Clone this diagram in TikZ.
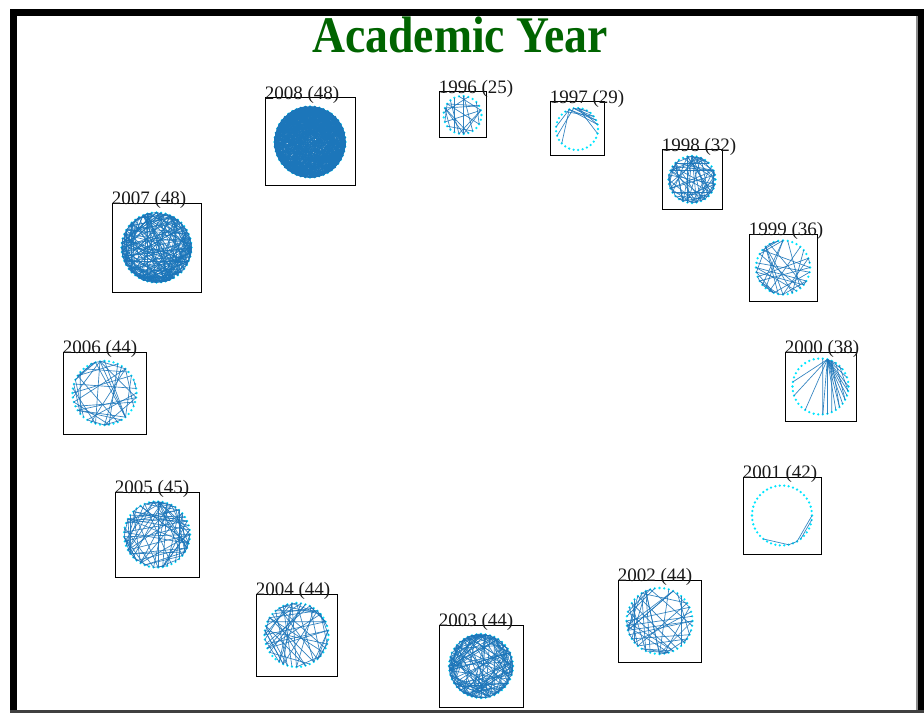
\documentclass[tikz,border=0pt]{standalone}
\usepackage{graphicx}
\usepackage{fontspec}
\setmainfont{Liberation Serif}
\usepackage{tikz}
\usetikzlibrary{positioning}
\usepackage{xcolor}

\definecolor{titlegreen}{RGB}{0,100,0}
\definecolor{netblue}{RGB}{28,118,186}
\definecolor{netcyan}{RGB}{0,230,255}
\newcommand{\px}{0.75pt}

% vertices of one year's network, evenly spread on a circle
\newcommand{\netvertices}[5]{% name, cx, cy, radius, count
  \foreach \k in {1,...,#5}{
    \coordinate (#1-\k) at ([shift={(360/#5*\k:#4)}]#2,#3);
    \fill[netvertex] (#1-\k) circle (0.95pt);
  }}
% random links between the vertices
\newcommand{\netlinks}[4]{% name, count, links, seed
  \pgfmathsetseed{#4}
  \foreach \e in {1,...,#3}{
    \pgfmathrandominteger{\ia}{1}{#2}
    \pgfmathrandominteger{\ib}{1}{#2}
    \draw[netedge] (#1-\ia) -- (#1-\ib);
  }}

\begin{document}
\begin{tikzpicture}[
  x=\px, y=-\px,
  yearbox/.style={draw, line width=0.75pt, inner sep=0pt},
  yearlabel/.style={anchor=base west, inner sep=0pt, yshift=-1.5pt,
                    font=\fontsize{14.25pt}{15pt}\selectfont, text=black!90},
  titletext/.style={anchor=base, inner sep=0pt, text=titlegreen,
                    font=\bfseries\fontsize{38.5pt}{40pt}\selectfont},
  netedge/.style={draw=netblue, line width=0.5pt, draw opacity=0.9},
  netvertex/.style={fill=netcyan}]
  \useasboundingbox[fill=white] (0,0) rectangle (924,713);

  % frame
  \fill[black] (10,9) rectangle (17,713);
  \fill[black] (10,9) rectangle (924,16);
  \fill[black] (918,9) rectangle (924,713);
  \fill[black!75] (10,710) rectangle (924,713);
  \fill[black!45] (915.5,16) rectangle (918,710);

  \node[titletext] (title) at (460,53) {\scalebox{0.89}[1]{Academic Year}};

  % 1996
  \node[yearbox, minimum width=47*\px, minimum height=46*\px] (y1996) at (462.5,115) {};
  \node[yearlabel] (l1996) at (y1996.north west) {1996 (25)};
  \netvertices{g1996}{462.5}{115}{19}{25}
  \netlinks{g1996}{25}{18}{11}

  % 1997
  \node[yearbox, minimum width=54*\px, minimum height=54*\px] (y1997) at (577,129) {};
  \node[yearlabel] (l1997) at (y1997.north west) {1997 (29)};
  \netvertices{g1997}{577}{129}{21}{29}
  \foreach \a/\b in {20/27, 20/28, 21/27, 21/26, 22/28, 22/25, 21/24, 20/15,
                     20/11, 21/13, 19/26, 22/1}
    \draw[netedge] (g1997-\a) -- (g1997-\b);

  % 1998
  \node[yearbox, minimum width=60*\px, minimum height=59*\px] (y1998) at (692,179.5) {};
  \node[yearlabel] (l1998) at (y1998.north west) {1998 (32)};
  \netvertices{g1998}{692}{179.5}{23.5}{32}
  \netlinks{g1998}{32}{70}{12}

  % 1999
  \node[yearbox, minimum width=68*\px, minimum height=67*\px] (y1999) at (783,267.5) {};
  \node[yearlabel] (l1999) at (y1999.north west) {1999 (36)};
  \netvertices{g1999}{783}{267.5}{27}{36}
  \netlinks{g1999}{36}{35}{13}

  % 2000
  \node[yearbox, minimum width=71*\px, minimum height=69*\px] (y2000) at (820.5,386.5) {};
  \node[yearlabel] (l2000) at (y2000.north west) {2000 (38)};
  \netvertices{g2000}{820.5}{386.5}{28}{38}
  \foreach \b in {20, 17, 13, 9, 8, 6, 5, 4, 3, 2, 1, 38, 36, 34, 32}
    \draw[netedge] (g2000-30) -- (g2000-\b);
  \foreach \a/\b in {31/5, 31/7, 32/3, 33/1, 29/9}
    \draw[netedge] (g2000-\a) -- (g2000-\b);

  % 2001
  \node[yearbox, minimum width=78*\px, minimum height=77*\px] (y2001) at (782,515.5) {};
  \node[yearlabel] (l2001) at (y2001.north west) {2001 (42)};
  \netvertices{g2001}{782}{515.5}{30}{42}
  \foreach \a/\b in {15/9, 9/7, 7/42, 6/1}
    \draw[netedge] (g2001-\a) -- (g2001-\b);

  % 2002
  \node[yearbox, minimum width=83*\px, minimum height=82*\px] (y2002) at (659.5,621) {};
  \node[yearlabel] (l2002) at (y2002.north west) {2002 (44)};
  \netvertices{g2002}{659.5}{621}{33}{44}
  \netlinks{g2002}{44}{45}{14}

  % 2003
  \node[yearbox, minimum width=84*\px, minimum height=82*\px] (y2003) at (481,666) {};
  \node[yearlabel] (l2003) at (y2003.north west) {2003 (44)};
  \netvertices{g2003}{481}{666}{32}{44}
  \netlinks{g2003}{44}{150}{15}

  % 2004
  \node[yearbox, minimum width=81*\px, minimum height=82*\px] (y2004) at (296.5,635) {};
  \node[yearlabel] (l2004) at (y2004.north west) {2004 (44)};
  \netvertices{g2004}{296.5}{635}{32}{44}
  \netlinks{g2004}{44}{55}{16}

  % 2005
  \node[yearbox, minimum width=84*\px, minimum height=85*\px] (y2005) at (157,534.5) {};
  \node[yearlabel] (l2005) at (y2005.north west) {2005 (45)};
  \netvertices{g2005}{157}{534.5}{33}{45}
  \netlinks{g2005}{45}{80}{17}

  % 2006
  \node[yearbox, minimum width=83*\px, minimum height=82*\px] (y2006) at (104.5,393) {};
  \node[yearlabel] (l2006) at (y2006.north west) {2006 (44)};
  \netvertices{g2006}{104.5}{393}{32}{44}
  \netlinks{g2006}{44}{40}{18}

  % 2007
  \node[yearbox, minimum width=89*\px, minimum height=89*\px] (y2007) at (156.5,247.5) {};
  \node[yearlabel] (l2007) at (y2007.north west) {2007 (48)};
  \netvertices{g2007}{156.5}{247.5}{35}{48}
  \netlinks{g2007}{48}{220}{19}

  % 2008
  \node[yearbox, minimum width=90*\px, minimum height=88*\px] (y2008) at (310,142) {};
  \node[yearlabel] (l2008) at (y2008.north west) {2008 (48)};
  \netvertices{g2008}{310}{142}{35.5}{48}
  \netlinks{g2008}{48}{700}{20}
\end{tikzpicture}
\end{document}
